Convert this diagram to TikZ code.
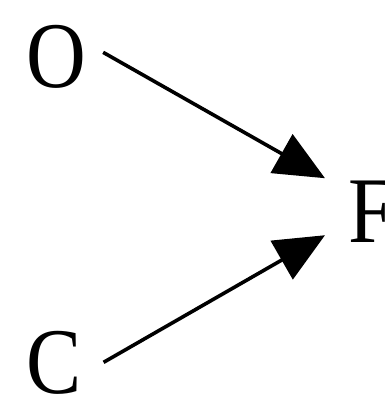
\documentclass[tikz,border=0pt]{standalone}
\usepackage{fontspec}
\setmainfont{Liberation Serif}[FakeStretch=0.88]
\usepackage{tikz}
\usetikzlibrary{arrows.meta}

\begin{document}
\begin{tikzpicture}[x=1pt, y=-1pt,
    lbl/.style={inner sep=0pt, anchor=base west, font=\fontsize{94}{94}\selectfont},
    arr/.style={line width=3.6pt, -{Triangle[length=50pt, width=44pt]}}]
    \useasboundingbox (0,0) rectangle (385,399);

    % Variables
    \node[lbl] (O) at (26, 87) {O};
    \node[lbl] (C) at (26, 393) {C};
    \node[lbl] (F) at (348, 242) {F};

    % Arrows into F
    \draw[arr] ([shift={(17,-4)}]O.east) -- ([shift={(-23,-33)}]F.west);
    \draw[arr] ([shift={(22,0)}]C.east) -- ([shift={(-23,24)}]F.west);

\end{tikzpicture}
\end{document}
